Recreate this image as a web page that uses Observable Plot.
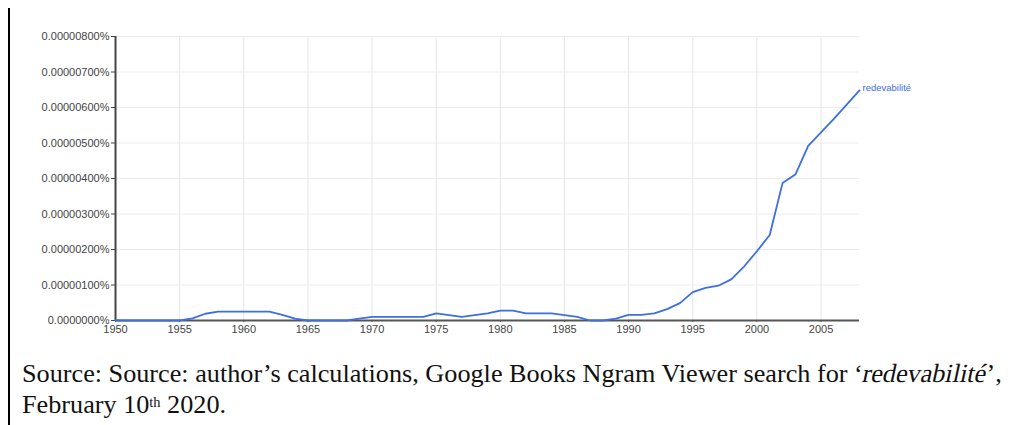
<!DOCTYPE html>
<html>
<head>
<meta charset="utf-8">
<script src="https://cdn.jsdelivr.net/npm/d3@7"></script>
<script src="https://cdn.jsdelivr.net/npm/@observablehq/plot@0.6"></script>
<style>
  html, body { margin: 0; padding: 0; background: #fff; }
  #wrap { position: relative; width: 1027px; height: 425px; overflow: hidden; }
  #bar { position: absolute; left: 8px; top: 8px; width: 2px; height: 417px; background: #000; }
  #chart { position: absolute; left: 0; top: 0; }
  #caption { position: absolute; left: 22px; top: 358px; width: 1000px;
    font-family: "Liberation Serif", "DejaVu Serif", serif; font-size: 20px; line-height: 31px; color: #111; }
  #caption .l1 { white-space: nowrap; display: inline-block; }
  #caption .it { display: inline-block; font-style: normal; transform: skewX(-12deg); }
  #caption sup { font-size: 0.55em; vertical-align: 0.45em; line-height: 0; }
</style>
</head>
<body>
<div id="wrap">
  <div id="bar"></div>
  <div id="chart"></div>
  <div id="caption">
    <span class="l1" id="l1">Source: Source: author’s calculations, Google Books Ngram Viewer search for ‘<span class="it">redevabilité</span>’,</span>
    <div>February 10<sup>th</sup> 2020.</div>
  </div>
</div>
<script>
const years = [1950,1951,1952,1953,1954,1955,1956,1957,1958,1959,1960,1961,1962,1963,1964,1965,1966,1967,1968,1969,1970,1971,1972,1973,1974,1975,1976,1977,1978,1979,1980,1981,1982,1983,1984,1985,1986,1987,1988,1989,1990,1991,1992,1993,1994,1995,1996,1997,1998,1999,2000,2001,2002,2003,2004,2005,2006,2007,2008];
// values in units of 0.000001 %
const values = [0,0,0,0,0,0,0.06,0.19,0.25,0.25,0.25,0.25,0.25,0.16,0.05,0,0,0,0,0.05,0.1,0.1,0.1,0.1,0.1,0.2,0.15,0.1,0.15,0.2,0.28,0.28,0.2,0.2,0.2,0.15,0.1,0,0,0.05,0.16,0.16,0.2,0.32,0.49,0.8,0.92,0.98,1.16,1.52,1.95,2.41,3.87,4.11,4.92,5.3,5.68,6.08,6.48];
const seriesName = "redevabilité";
const xTicks = [1950,1955,1960,1965,1970,1975,1980,1985,1990,1995,2000,2005];
const yTicks = [0,1,2,3,4,5,6,7,8];
const yTickLabels = ["0.0000000%","0.00000100%","0.00000200%","0.00000300%","0.00000400%","0.00000500%","0.00000600%","0.00000700%","0.00000800%"];

const data = years.map((y, i) => ({year: y, value: values[i]}));
const last = data[data.length - 1];
const blue = "#3d6fe3";

const chart = Plot.plot({
  width: 1027,
  height: 340,
  marginLeft: 115,
  marginRight: 168,
  marginTop: 36,
  marginBottom: 20,
  style: {fontFamily: "'Liberation Sans', Arial, sans-serif", fontSize: "11px", color: "#444", background: "transparent"},
  x: {domain: [1950, 2008], label: null},
  y: {domain: [0, 8], label: null},
  marks: [
    Plot.gridX(xTicks, {stroke: "#e6e6e6", strokeOpacity: 1}),
    Plot.gridY(yTicks, {stroke: "#ececec", strokeOpacity: 1}),
    Plot.axisY(yTicks, {label: null, tickSize: 4, tickPadding: 2, stroke: "#444", fill: "#444", tickFormat: (d, i) => yTickLabels[i]}),
    Plot.axisX(xTicks, {label: null, tickSize: 2, tickPadding: 3, stroke: "#444", fill: "#444", tickFormat: d => String(d)}),
    Plot.ruleX([1950], {stroke: "#444", strokeWidth: 2}),
    Plot.ruleY([0], {stroke: "#555", strokeWidth: 2}),
    Plot.line(data, {x: "year", y: "value", stroke: blue, strokeWidth: 1.8}),
    Plot.text([last], {x: "year", y: "value", text: () => seriesName, dx: 3, dy: -3, textAnchor: "start", fill: blue, fontSize: 9.5})
  ]
});
document.getElementById("chart").appendChild(chart);

// size the caption so its first line spans the same width as in the source document
const cap = document.getElementById("caption");
const l1 = document.getElementById("l1");
const w = l1.getBoundingClientRect().width;
cap.style.fontSize = (20 * 980 / w).toFixed(2) + "px";
</script>
</body>
</html>
